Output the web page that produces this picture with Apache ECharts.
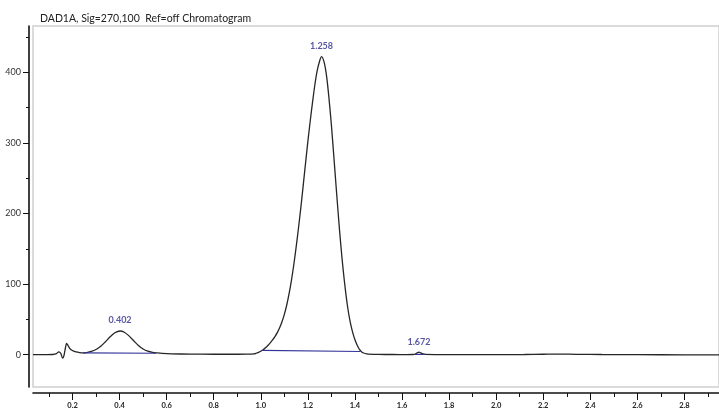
<!DOCTYPE html>
<html>
<head>
<meta charset="utf-8">
<script src="https://cdn.jsdelivr.net/npm/echarts@6/dist/echarts.min.js"></script>
<style>
  html, body { margin: 0; padding: 0; background: #fff; }
  #chart { width: 719px; height: 410px; }
</style>
</head>
<body>
<div id="chart"></div>
<script>
// Detector trace: retention time (min) and signal (mAU)
const traceTime = [
  0.032, 0.06, 0.09, 0.115, 0.13, 0.142, 0.15, 0.158, 0.163, 0.169, 0.175, 0.181, 0.188, 0.196,
  0.205, 0.215, 0.23, 0.245, 0.26, 0.28, 0.30, 0.32, 0.34, 0.36, 0.38, 0.402, 0.42, 0.44, 0.46,
  0.48, 0.50, 0.52, 0.54, 0.56, 0.58, 0.62, 0.70, 0.80, 0.90, 0.94, 0.97, 0.98, 0.99,
  1.00, 1.01, 1.02, 1.03, 1.04, 1.05, 1.06, 1.07, 1.08, 1.09, 1.10, 1.11, 1.12, 1.13, 1.14,
  1.15, 1.16, 1.17, 1.18, 1.19, 1.20, 1.21, 1.22, 1.23, 1.24, 1.25, 1.258, 1.27, 1.28, 1.29,
  1.30, 1.31, 1.32, 1.33, 1.34, 1.35, 1.36, 1.37, 1.38, 1.39, 1.40, 1.41, 1.42, 1.43, 1.44,
  1.45, 1.46, 1.50, 1.56, 1.62, 1.645, 1.655, 1.663, 1.672, 1.68, 1.688, 1.70, 1.75, 1.85,
  2.00, 2.12, 2.20, 2.27, 2.34, 2.45, 2.60, 2.80, 2.947
];
const traceSignal = [
  0, 0, 0, 0.2, 1, 4, 2, -5, -2, 8, 16, 13, 9, 6.5,
  5, 3.8, 2.9, 2.5, 3.0, 4.5, 7.3, 11.9, 18.3, 25.3, 31, 33.5, 31.8, 26.6, 19.7,
  13.1, 8.1, 4.9, 3.2, 2.4, 1.8, 1.2, 0.8, 0.6, 0.6, 0.8, 1.2, 2, 3.2,
  4.8, 7, 9.8, 13, 16.6, 20.8, 25.6, 31.2, 38, 46.5, 57, 70, 86, 105, 127,
  152, 179, 208, 239, 271, 302, 331, 358, 383, 403, 416, 422, 413, 393, 362,
  325, 282, 238, 195, 155, 120, 90, 65, 46, 32, 21, 13, 7, 3.5, 2,
  1.2, 0.7, 0.3, 0.2, 0.1, 0.2, 0.6, 2.3, 3.5, 2.5, 1.0, 0.3, 0.1, 0,
  0, 0.2, 0.6, 0.9, 0.5, 0.2, 0, -0.2, -0.3
];

// Integrated peaks: apex time and height
const peakTime = [0.402, 1.258, 1.672];
const peakHeight = [33.5, 422, 3.5];

// Integration baselines (start/end of each peak)
const baseline1 = [[0.245, 2.5], [0.555, 2.0]];
const baseline2 = [[1.006, 6.0], [1.423, 4.5]];
const baseline3 = [[1.655, 0.5], [1.695, 0.5]];

// Axis ticks
const xMajorTicks = [0.2, 0.4, 0.6, 0.8, 1.0, 1.2, 1.4, 1.6, 1.8, 2.0, 2.2, 2.4, 2.6, 2.8];
const xMinorTicks = [0.1, 0.3, 0.5, 0.7, 0.9, 1.1, 1.3, 1.5, 1.7, 1.9, 2.1, 2.3, 2.5, 2.7, 2.9];
const yMajorTicks = [0, 100, 200, 300, 400];
const yMinorTicks = [50, 150, 250, 350, 450];

const X_MIN = 0.0321, X_MAX = 2.9468;
const Y_MIN = -45.8, Y_MAX = 465.5;

const traceData = traceTime.map((t, i) => [t, traceSignal[i]]);
const peakData = peakTime.map((t, i) => [t, peakHeight[i]]);

const chart = echarts.init(document.getElementById('chart'), null, { renderer: 'canvas' });

const baseStyle = { color: '#34349a', width: 1.2 };
const baselineSeries = [baseline1, baseline2, baseline3].map(seg => ({
  type: 'line',
  data: seg,
  symbol: 'none',
  lineStyle: baseStyle,
  itemStyle: { color: '#34349a' },
  z: 3,
  silent: true
}));

chart.setOption({
  animation: false,
  title: {
    text: 'DAD1A, Sig=270,100  Ref=off Chromatogram',
    left: 35,
    top: 8,
    textStyle: { fontFamily: 'Lato', fontSize: 10.5, fontWeight: 'normal', color: '#222' }
  },
  grid: {
    left: 33, top: 26, right: -3, bottom: 21,
    show: true,
    borderColor: '#cfcfcf',
    borderWidth: 1.5,
    backgroundColor: 'transparent'
  },
  xAxis: [
    {
      type: 'value', position: 'bottom', offset: 6,
      min: X_MIN, max: X_MAX,
      axisLine: { show: true, onZero: false, lineStyle: { color: '#111', width: 1.6 } },
      axisTick: { show: true, length: 7, customValues: xMajorTicks, lineStyle: { color: '#111', width: 1 } },
      axisLabel: {
        customValues: xMajorTicks, margin: 9,
        fontFamily: 'Lato', fontSize: 7.5, fontWeight: 'bold', color: '#222',
        formatter: v => v.toFixed(1)
      },
      splitLine: { show: false }
    },
    {
      type: 'value', position: 'bottom', offset: 6,
      min: X_MIN, max: X_MAX,
      axisLine: { show: false, onZero: false },
      axisTick: { show: true, length: 4, customValues: xMinorTicks, lineStyle: { color: '#111', width: 1 } },
      axisLabel: { show: false },
      splitLine: { show: false }
    }
  ],
  yAxis: [
    {
      type: 'value', position: 'left', offset: 4,
      min: Y_MIN, max: Y_MAX,
      axisLine: { show: true, onZero: false, lineStyle: { color: '#111', width: 1.6 } },
      axisTick: { show: true, length: 6, customValues: yMajorTicks, lineStyle: { color: '#111', width: 1 } },
      axisLabel: {
        customValues: yMajorTicks, margin: 8,
        fontFamily: 'Lato', fontSize: 9, color: '#333'
      },
      splitLine: { show: false }
    },
    {
      type: 'value', position: 'left', offset: 4,
      min: Y_MIN, max: Y_MAX,
      axisLine: { show: false, onZero: false },
      axisTick: { show: true, length: 3, customValues: yMinorTicks, lineStyle: { color: '#111', width: 1 } },
      axisLabel: { show: false },
      splitLine: { show: false }
    }
  ],
  series: [
    {
      type: 'line',
      data: traceData,
      symbol: 'none',
      smooth: 0.3,
      lineStyle: { color: '#262626', width: 1.3 },
      itemStyle: { color: '#262626' },
      z: 2,
      silent: true
    },
    ...baselineSeries,
    {
      type: 'scatter',
      data: peakData,
      symbolSize: 0,
      z: 4,
      silent: true,
      label: {
        show: true,
        position: 'top',
        distance: 6,
        fontFamily: 'Lato',
        fontSize: 9,
        fontWeight: 'bold',
        color: '#2c2c8c',
        formatter: p => p.value[0].toFixed(3)
      }
    }
  ]
});
</script>
</body>
</html>
